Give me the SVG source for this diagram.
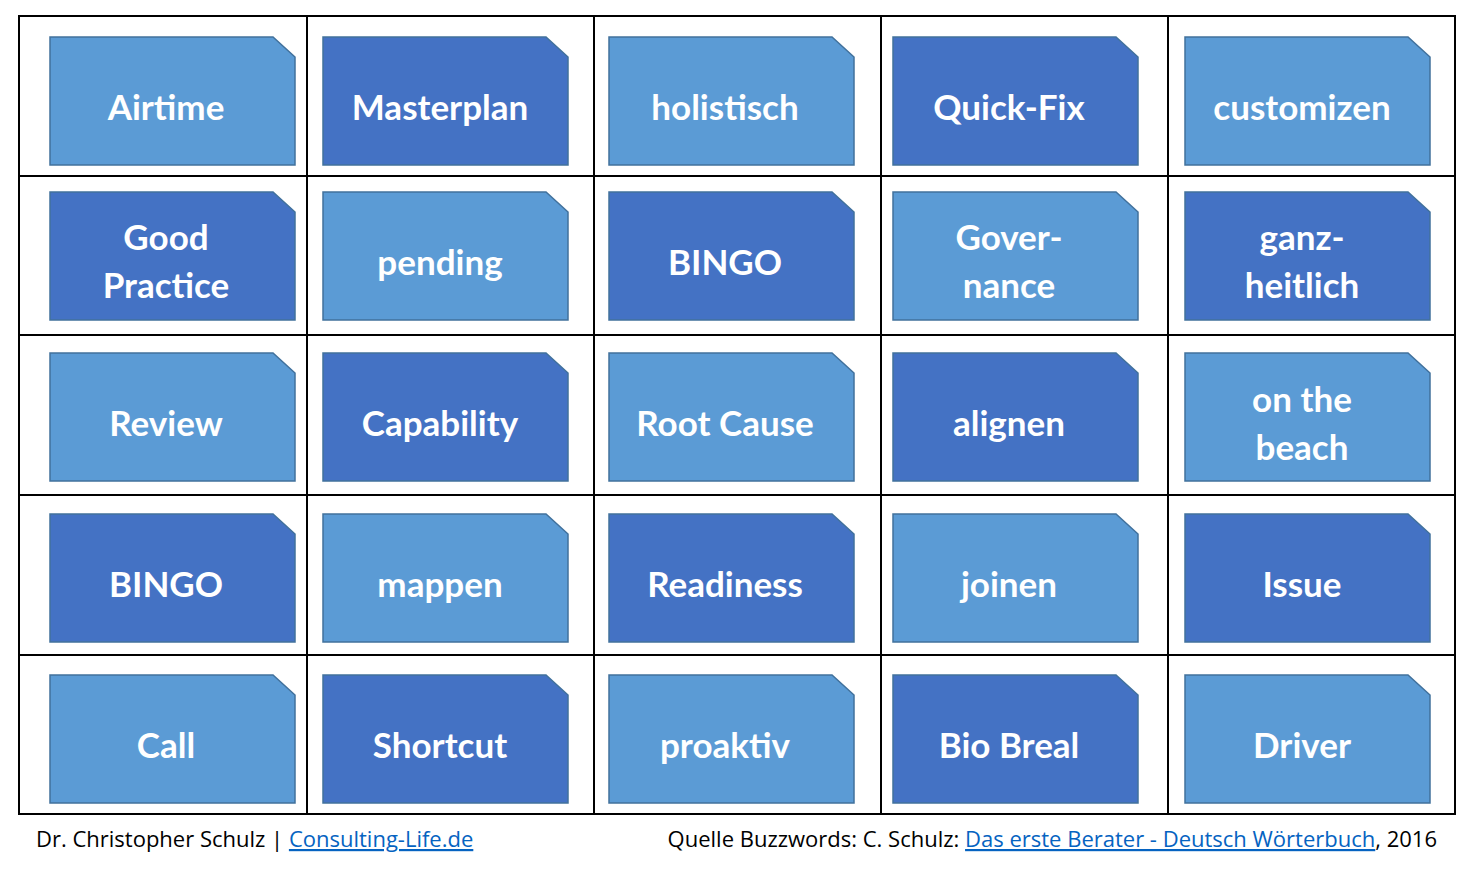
<svg xmlns="http://www.w3.org/2000/svg" width="1478" height="870" viewBox="0 0 1478 870">
<style>
.l{fill:#5B9BD5}.d{fill:#4472C4}
.c{stroke:#41719C;stroke-width:1.5}
.t{font-family:Lato,"Open Sans",sans-serif;font-weight:bold;font-size:35px;fill:#fff;text-anchor:middle}
.g{stroke:#000;stroke-width:2;fill:none}
.f{font-family:"Open Sans","Liberation Sans",sans-serif;font-size:22px;fill:#000}
.a{fill:#0563C1;text-decoration:underline}
</style>
<defs>
<path id="cl" d="M0,0H223L245,20V128H0Z"/>
</defs>
<rect width="1478" height="870" fill="#fff"/>
<g id="grid" class="g">
<rect x="19" y="16" width="1436" height="798"/>
<path d="M307,16V814M594,16V814M881,16V814M1168,16V814M19,176H1455M19,335H1455M19,495H1455M19,655H1455"/>
</g>
<g id="connectors"/>
<g id="r0">
<g id="n00"><use href="#cl" x="50" y="37" class="l c"/><text class="t" x="166" y="120">Airtime</text></g>
<g id="n01"><use href="#cl" x="323" y="37" class="d c"/><text class="t" x="440" y="120">Masterplan</text></g>
<g id="n02"><use href="#cl" x="609" y="37" class="l c"/><text class="t" x="725" y="120">holistisch</text></g>
<g id="n03"><use href="#cl" x="893" y="37" class="d c"/><text class="t" x="1009" y="120">Quick-Fix</text></g>
<g id="n04"><use href="#cl" x="1185" y="37" class="l c"/><text class="t" x="1302" y="120">customizen</text></g>
</g>
<g id="r1">
<g id="n10"><use href="#cl" x="50" y="192" class="d c"/><text class="t" x="166" y="250">Good</text><text class="t" x="166" y="298">Practice</text></g>
<g id="n11"><use href="#cl" x="323" y="192" class="l c"/><text class="t" x="440" y="275">pending</text></g>
<g id="n12"><use href="#cl" x="609" y="192" class="d c"/><text class="t" x="725" y="275">BINGO</text></g>
<g id="n13"><use href="#cl" x="893" y="192" class="l c"/><text class="t" x="1009" y="250">Gover-</text><text class="t" x="1009" y="298">nance</text></g>
<g id="n14"><use href="#cl" x="1185" y="192" class="d c"/><text class="t" x="1302" y="250">ganz-</text><text class="t" x="1302" y="298">heitlich</text></g>
</g>
<g id="r2">
<g id="n20"><use href="#cl" x="50" y="353" class="l c"/><text class="t" x="166" y="436">Review</text></g>
<g id="n21"><use href="#cl" x="323" y="353" class="d c"/><text class="t" x="440" y="436">Capability</text></g>
<g id="n22"><use href="#cl" x="609" y="353" class="l c"/><text class="t" x="725" y="436">Root Cause</text></g>
<g id="n23"><use href="#cl" x="893" y="353" class="d c"/><text class="t" x="1009" y="436">alignen</text></g>
<g id="n24"><use href="#cl" x="1185" y="353" class="l c"/><text class="t" x="1302" y="412">on the</text><text class="t" x="1302" y="460">beach</text></g>
</g>
<g id="r3">
<g id="n30"><use href="#cl" x="50" y="514" class="d c"/><text class="t" x="166" y="597">BINGO</text></g>
<g id="n31"><use href="#cl" x="323" y="514" class="l c"/><text class="t" x="440" y="597">mappen</text></g>
<g id="n32"><use href="#cl" x="609" y="514" class="d c"/><text class="t" x="725" y="597">Readiness</text></g>
<g id="n33"><use href="#cl" x="893" y="514" class="l c"/><text class="t" x="1009" y="597">joinen</text></g>
<g id="n34"><use href="#cl" x="1185" y="514" class="d c"/><text class="t" x="1302" y="597">Issue</text></g>
</g>
<g id="r4">
<g id="n40"><use href="#cl" x="50" y="675" class="l c"/><text class="t" x="166" y="758">Call</text></g>
<g id="n41"><use href="#cl" x="323" y="675" class="d c"/><text class="t" x="440" y="758">Shortcut</text></g>
<g id="n42"><use href="#cl" x="609" y="675" class="l c"/><text class="t" x="725" y="758">proaktiv</text></g>
<g id="n43"><use href="#cl" x="893" y="675" class="d c"/><text class="t" x="1009" y="758">Bio Breal</text></g>
<g id="n44"><use href="#cl" x="1185" y="675" class="l c"/><text class="t" x="1302" y="758">Driver</text></g>
</g>
<g id="footer">
<text class="f" x="36" y="847">Dr. Christopher Schulz | <tspan class="a">Consulting-Life.de</tspan></text>
<text class="f" x="1437" y="847" text-anchor="end">Quelle Buzzwords: C. Schulz: <tspan class="a">Das erste Berater - Deutsch Wörterbuch</tspan>, 2016</text>
</g>
</svg>
